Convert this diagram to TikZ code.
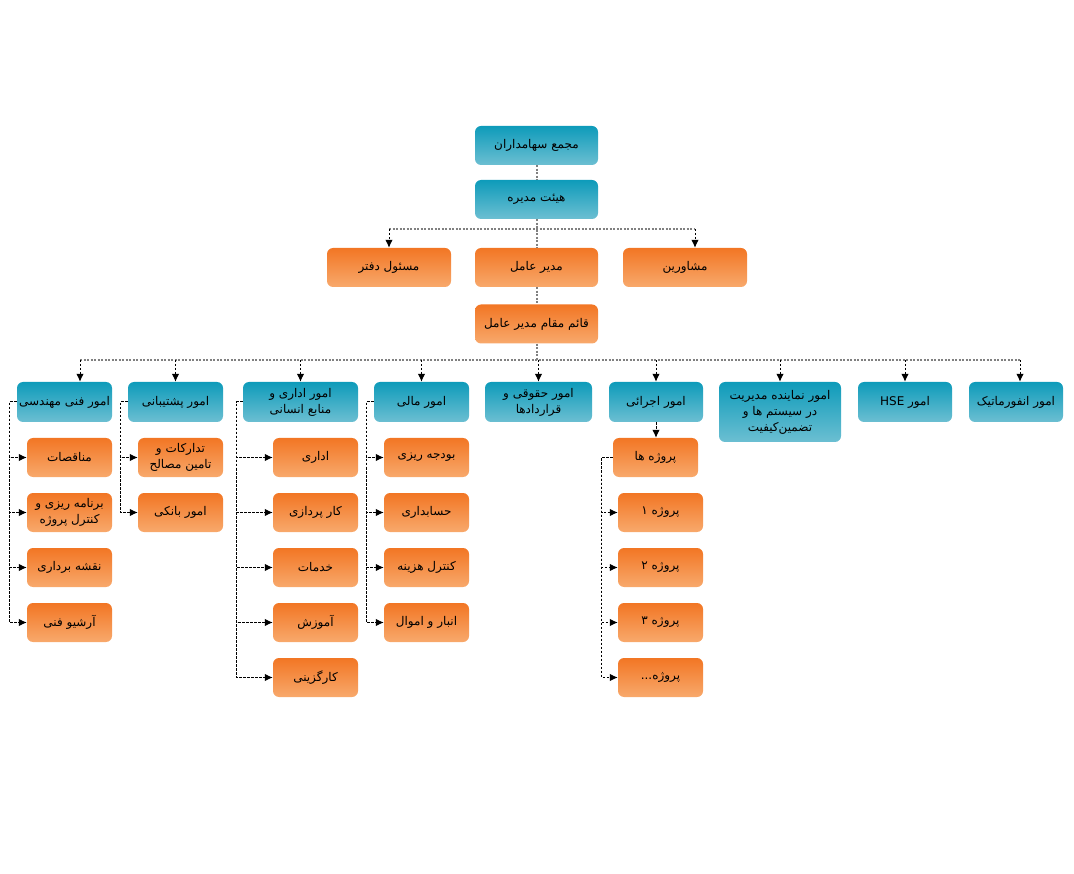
\documentclass[tikz,border=0pt]{standalone}
\usepackage{fontspec}
\usepackage{xcolor}
\usepackage{tikz}
\usetikzlibrary{arrows.meta}
\newfontfamily\fafont[Script=Arabic]{DejaVu Sans}
\TeXXeTstate=1
\newcommand{\fa}[1]{\beginR #1\endR}
\definecolor{topblue}{HTML}{0E9BBA}
\definecolor{botblue}{HTML}{6CBFD2}
\definecolor{toporange}{HTML}{F27624}
\definecolor{botorange}{HTML}{F8A96C}
\tikzset{
  box/.style={rectangle, rounded corners=6pt, minimum height=39pt, inner sep=2pt,
    align=center, text=black, font=\fafont\fontsize{12}{16}\selectfont},
  bluebox/.style={box, top color=topblue, bottom color=botblue},
  orangebox/.style={box, top color=toporange, bottom color=botorange},
  mainline/.style={gray, line width=2pt, dash pattern=on 2pt off 1.5pt},
  subarrow/.style={black, line width=1pt, dash pattern=on 2.5pt off 1.5pt,
    -{Latex[length=8pt,width=7.5pt]}},
}
\begin{document}
\begin{tikzpicture}[x=1pt,y=-1pt]
\useasboundingbox (0,0) rectangle (1074,874);
% top of the chart
\node[bluebox, minimum width=123pt] (majma) at (536.5,145.5) {\fa{مجمع سهامداران}};
\node[bluebox, minimum width=123pt] (heyat) at (536.5,199.5) {\fa{هیئت مدیره}};
\node[orangebox, minimum width=124pt] (masool) at (389,267.5) {\fa{مسئول دفتر}};
\node[orangebox, minimum width=123pt] (modir) at (536.5,267.5) {\fa{مدیر عامل}};
\node[orangebox, minimum width=124pt] (moshaver) at (685,267.5) {\fa{مشاورین}};
\node[orangebox, minimum width=123pt] (ghaem) at (536.5,324) {\fa{قائم مقام مدیر عامل}};
% departments
\node[bluebox, minimum width=95pt, minimum height=40pt] (fani) at (64.5,402) {\fa{امور فنی مهندسی}};
\node[bluebox, minimum width=95pt, minimum height=40pt] (poshtibani) at (175.5,402) {\fa{امور پشتیبانی}};
\node[bluebox, minimum width=115pt, minimum height=40pt] (edari) at (300.5,402) {\fa{امور اداری و}\\\fa{منابع انسانی}};
\node[bluebox, minimum width=95pt, minimum height=40pt] (mali) at (421.5,402) {\fa{امور مالی}};
\node[bluebox, minimum width=107pt, minimum height=40pt] (hoghughi) at (538.5,402) {\fa{امور حقوقی و}\\\fa{قراردادها}};
\node[bluebox, minimum width=94pt, minimum height=40pt] (ejraei) at (656,402) {\fa{امور اجرائی}};
\node[bluebox, minimum width=122pt, minimum height=60pt] (nemayande) at (780,412) {\fa{امور نماینده مدیریت}\\\fa{در سیستم ها و}\\\fa{تضمین‌کیفیت}};
\node[bluebox, minimum width=94pt, minimum height=40pt] (hse) at (905,402) {\fa{امور \beginL HSE\endL{}}};
\node[bluebox, minimum width=94pt, minimum height=40pt] (info) at (1016,402) {\fa{امور انفورماتیک}};
% units
\node[orangebox, minimum width=85pt] (f1) at (69.5,457.5) {\fa{مناقصات}};
\node[orangebox, minimum width=85pt] (f2) at (69.5,512.5) {\fa{برنامه ریزی و}\\\fa{کنترل پروژه}};
\node[orangebox, minimum width=85pt] (f3) at (69.5,567.5) {\fa{نقشه برداری}};
\node[orangebox, minimum width=85pt] (f4) at (69.5,622.5) {\fa{آرشیو فنی}};
\node[orangebox, minimum width=85pt] (p1) at (180.5,457.5) {\fa{تدارکات و}\\\fa{تامین مصالح}};
\node[orangebox, minimum width=85pt] (p2) at (180.5,512.5) {\fa{امور بانکی}};
\node[orangebox, minimum width=85pt] (e1) at (315.5,457.5) {\fa{اداری}};
\node[orangebox, minimum width=85pt] (e2) at (315.5,512.5) {\fa{کار پردازی}};
\node[orangebox, minimum width=85pt] (e3) at (315.5,567.5) {\fa{خدمات}};
\node[orangebox, minimum width=85pt] (e4) at (315.5,622.5) {\fa{آموزش}};
\node[orangebox, minimum width=85pt] (e5) at (315.5,677.5) {\fa{کارگزینی}};
\node[orangebox, minimum width=85pt] (m1) at (426.5,457.5) {\fa{بودجه ریزی}};
\node[orangebox, minimum width=85pt] (m2) at (426.5,512.5) {\fa{حسابداری}};
\node[orangebox, minimum width=85pt] (m3) at (426.5,567.5) {\fa{کنترل هزینه}};
\node[orangebox, minimum width=85pt] (m4) at (426.5,622.5) {\fa{انبار و اموال}};
\node[orangebox, minimum width=85pt] (proj) at (655.5,457.5) {\fa{پروژه ها}};
\node[orangebox, minimum width=85pt] (pr1) at (660.5,512.5) {\fa{پروژه ۱}};
\node[orangebox, minimum width=85pt] (pr2) at (660.5,567.5) {\fa{پروژه ۲}};
\node[orangebox, minimum width=85pt] (pr3) at (660.5,622.5) {\fa{پروژه ۳}};
\node[orangebox, minimum width=85pt] (pr4) at (660.5,677.5) {\fa{پروژه...}};
% main lines
\coordinate (bus1) at (536.5,229);
\coordinate (bus2) at (536.5,360);
\draw[mainline] (majma) -- (heyat);
\draw[mainline] (heyat) -- (modir);
\draw[mainline] (modir) -- (ghaem);
\draw[mainline] (ghaem) -- (bus2);
\draw[mainline] (masool.north |- bus1) -- ([xshift=10pt]moshaver.north |- bus1);
\draw[subarrow] (masool.north |- bus1) -- (masool.north);
\draw[subarrow] ([xshift=10pt]moshaver.north |- bus1) -- ([xshift=10pt]moshaver.north);
\draw[mainline] ([xshift=15.5pt]fani.north |- bus2) -- ([xshift=4pt]info.north |- bus2);
\draw[subarrow] ([xshift=15.5pt]fani.north |- bus2) -- ([xshift=15.5pt]fani.north);
\draw[subarrow] (poshtibani.north |- bus2) -- (poshtibani.north);
\draw[subarrow] (edari.north |- bus2) -- (edari.north);
\draw[subarrow] (mali.north |- bus2) -- (mali.north);
\draw[subarrow] (hoghughi.north |- bus2) -- (hoghughi.north);
\draw[subarrow] (ejraei.north |- bus2) -- (ejraei.north);
\draw[subarrow] (nemayande.north |- bus2) -- (nemayande.north);
\draw[subarrow] (hse.north |- bus2) -- (hse.north);
\draw[subarrow] ([xshift=4pt]info.north |- bus2) -- ([xshift=4pt]info.north);
\draw[subarrow] (ejraei.south) -- (ejraei.south |- proj.north);
% side rails
\draw[subarrow] (fani.west) -- ++(-7,0) |- (f1.west);
\draw[subarrow] (fani.west) -- ++(-7,0) |- (f2.west);
\draw[subarrow] (fani.west) -- ++(-7,0) |- (f3.west);
\draw[subarrow] (fani.west) -- ++(-7,0) |- (f4.west);
\draw[subarrow] (poshtibani.west) -- ++(-7,0) |- (p1.west);
\draw[subarrow] (poshtibani.west) -- ++(-7,0) |- (p2.west);
\draw[subarrow] (edari.west) -- ++(-6,0) |- (e1.west);
\draw[subarrow] (edari.west) -- ++(-6,0) |- (e2.west);
\draw[subarrow] (edari.west) -- ++(-6,0) |- (e3.west);
\draw[subarrow] (edari.west) -- ++(-6,0) |- (e4.west);
\draw[subarrow] (edari.west) -- ++(-6,0) |- (e5.west);
\draw[subarrow] (mali.west) -- ++(-7,0) |- (m1.west);
\draw[subarrow] (mali.west) -- ++(-7,0) |- (m2.west);
\draw[subarrow] (mali.west) -- ++(-7,0) |- (m3.west);
\draw[subarrow] (mali.west) -- ++(-7,0) |- (m4.west);
\draw[subarrow] (proj.west) -- ++(-11,0) |- (pr1.west);
\draw[subarrow] (proj.west) -- ++(-11,0) |- (pr2.west);
\draw[subarrow] (proj.west) -- ++(-11,0) |- (pr3.west);
\draw[subarrow] (proj.west) -- ++(-11,0) |- (pr4.west);
\end{tikzpicture}
\end{document}
